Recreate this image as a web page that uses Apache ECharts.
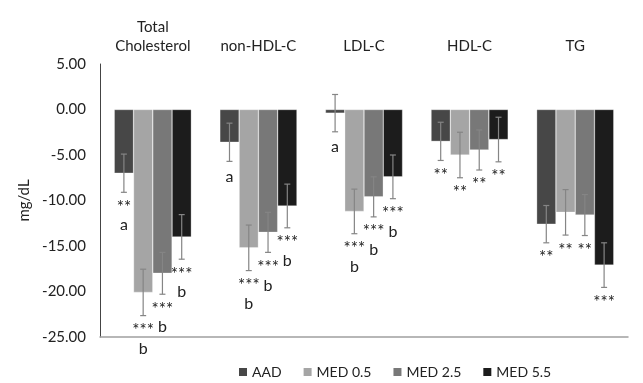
<!DOCTYPE html>
<html><head><meta charset="utf-8">
<script src="https://cdn.jsdelivr.net/npm/echarts@6/dist/echarts.min.js"></script>
<style>html,body{margin:0;padding:0;background:#fff}#c{width:643px;height:383px}</style>
</head><body><div id="c"></div>
<script>
const categories = ['Total\nCholesterol', 'non-HDL-C', 'LDL-C', 'HDL-C', 'TG'];
const seriesNames = ['AAD', 'MED 0.5', 'MED 2.5', 'MED 5.5'];
const aadValues = [-7.0, -3.6, -0.4, -3.5, -12.6];
const med05Values = [-20.1, -15.2, -11.2, -5.0, -11.3];
const med25Values = [-18.0, -13.5, -9.6, -4.45, -11.6];
const med55Values = [-14.0, -10.6, -7.4, -3.3, -17.1];
const aadErr = [2.1, 2.1, 2.05, 2.1, 2.05];
const med05Err = [2.55, 2.5, 2.45, 2.5, 2.5];
const med25Err = [2.3, 2.2, 2.2, 2.2, 2.25];
const med55Err = [2.45, 2.4, 2.4, 2.45, 2.45];
const aadStars = ['**', '', '', '**', '**'];
const med05Stars = ['***', '***', '***', '**', '**'];
const med25Stars = ['***', '***', '***', '**', '**'];
const med55Stars = ['***', '***', '***', '**', '***'];
const aadLetters = ['a', 'a', 'a', '', ''];
const med05Letters = ['b', 'b', 'b', '', ''];
const med25Letters = ['b', 'b', 'b', '', ''];
const med55Letters = ['b', 'b', 'b', '', ''];
const yTicks = [-25, -20, -15, -10, -5, 0, 5];

const colors = ['#474747', '#a5a5a5', '#787878', '#1c1c1c'];
const values = [aadValues, med05Values, med25Values, med55Values];
const errs = [aadErr, med05Err, med25Err, med55Err];
const stars = [aadStars, med05Stars, med25Stars, med55Stars];
const letters = [aadLetters, med05Letters, med25Letters, med55Letters];
const FONT = 'Lato, "Open Sans", sans-serif';
const groupFrac = 0.73;

const chart = echarts.init(document.getElementById('c'), null, {renderer: 'canvas'});

const series = [];
seriesNames.forEach((name, i) => {
  series.push({
    name, type: 'bar', data: values[i], barGap: '0%', barCategoryGap: '27%',
    itemStyle: {color: colors[i], borderColor: 'rgba(255,255,255,0.6)', borderWidth: 0.5},
    xAxisIndex: 0, yAxisIndex: 0
  });
});
seriesNames.forEach((name, i) => {
  series.push({
    type: 'custom', name: name + ' err', xAxisIndex: 0, yAxisIndex: 0, z: 5,
    data: values[i].map((v, k) => [k, v, errs[i][k], stars[i][k], letters[i][k]]),
    encode: {x: 0, y: 1},
    renderItem: function (params, api) {
      const k = api.value(0), v = api.value(1), e = api.value(2);
      const st = stars[i][k], lt = letters[i][k];
      const band = api.size([1, 0])[0];
      const bw = band * groupFrac / 4;
      const cx = api.coord([k, v])[0] - band * groupFrac / 2 + bw * (i + 0.5);
      const yTop = api.coord([k, v + e])[1];
      const yBot = api.coord([k, v - e])[1];
      const cap = 3;
      const st2 = {stroke: '#858585', lineWidth: 1.2};
      const children = [
        {type: 'line', shape: {x1: cx, y1: yTop, x2: cx, y2: yBot}, style: st2},
        {type: 'line', shape: {x1: cx - cap, y1: yTop, x2: cx + cap, y2: yTop}, style: st2},
        {type: 'line', shape: {x1: cx - cap, y1: yBot, x2: cx + cap, y2: yBot}, style: st2}
      ];
      let y = yBot;
      if (st) {
        children.push({type: 'text', style: {text: st, x: cx, y: y + 15, align: 'center', verticalAlign: 'middle', font: '17px ' + FONT, fill: '#222'}});
        y += 11;
      }
      if (lt) {
        children.push({type: 'text', style: {text: lt, x: cx, y: y + (st ? 22 : 15), align: 'center', verticalAlign: 'middle', font: '16px ' + FONT, fill: '#222'}});
      }
      return {type: 'group', children};
    }
  });
});

chart.setOption({
  animation: false,
  color: colors,
  textStyle: {fontFamily: FONT},
  grid: {left: 100, right: 15, top: 64, bottom: 46},
  legend: {
    data: seriesNames, left: 234, top: 360, icon: 'rect', itemWidth: 8, itemHeight: 8, itemGap: 22, itemStyle: {borderWidth: 0},
    textStyle: {fontSize: 14, color: '#222', fontFamily: FONT}
  },
  xAxis: [
    {type: 'category', data: categories, position: 'top', axisLine: {show: false}, axisTick: {show: false},
     axisLabel: {fontSize: 15, color: '#222', margin: 8, lineHeight: 19, interval: 0}},
    {type: 'category', data: categories, position: 'bottom', axisLine: {onZero: true, lineStyle: {color: '#a0a0a0', width: 1.5}},
     axisTick: {show: false}, axisLabel: {show: false}}
  ],
  yAxis: {
    type: 'value', min: yTicks[0], max: yTicks[yTicks.length - 1], interval: 5,
    name: 'mg/dL', nameLocation: 'middle', nameGap: 63, nameRotate: 90,
    nameTextStyle: {fontSize: 15, color: '#222'},
    axisLine: {show: true, onZero: false, lineStyle: {color: '#444', width: 1}},
    axisTick: {show: false}, splitLine: {show: false},
    axisLabel: {fontSize: 15, color: '#222', margin: 14, formatter: v => v.toFixed(2)}
  },
  series
});
</script></body></html>
